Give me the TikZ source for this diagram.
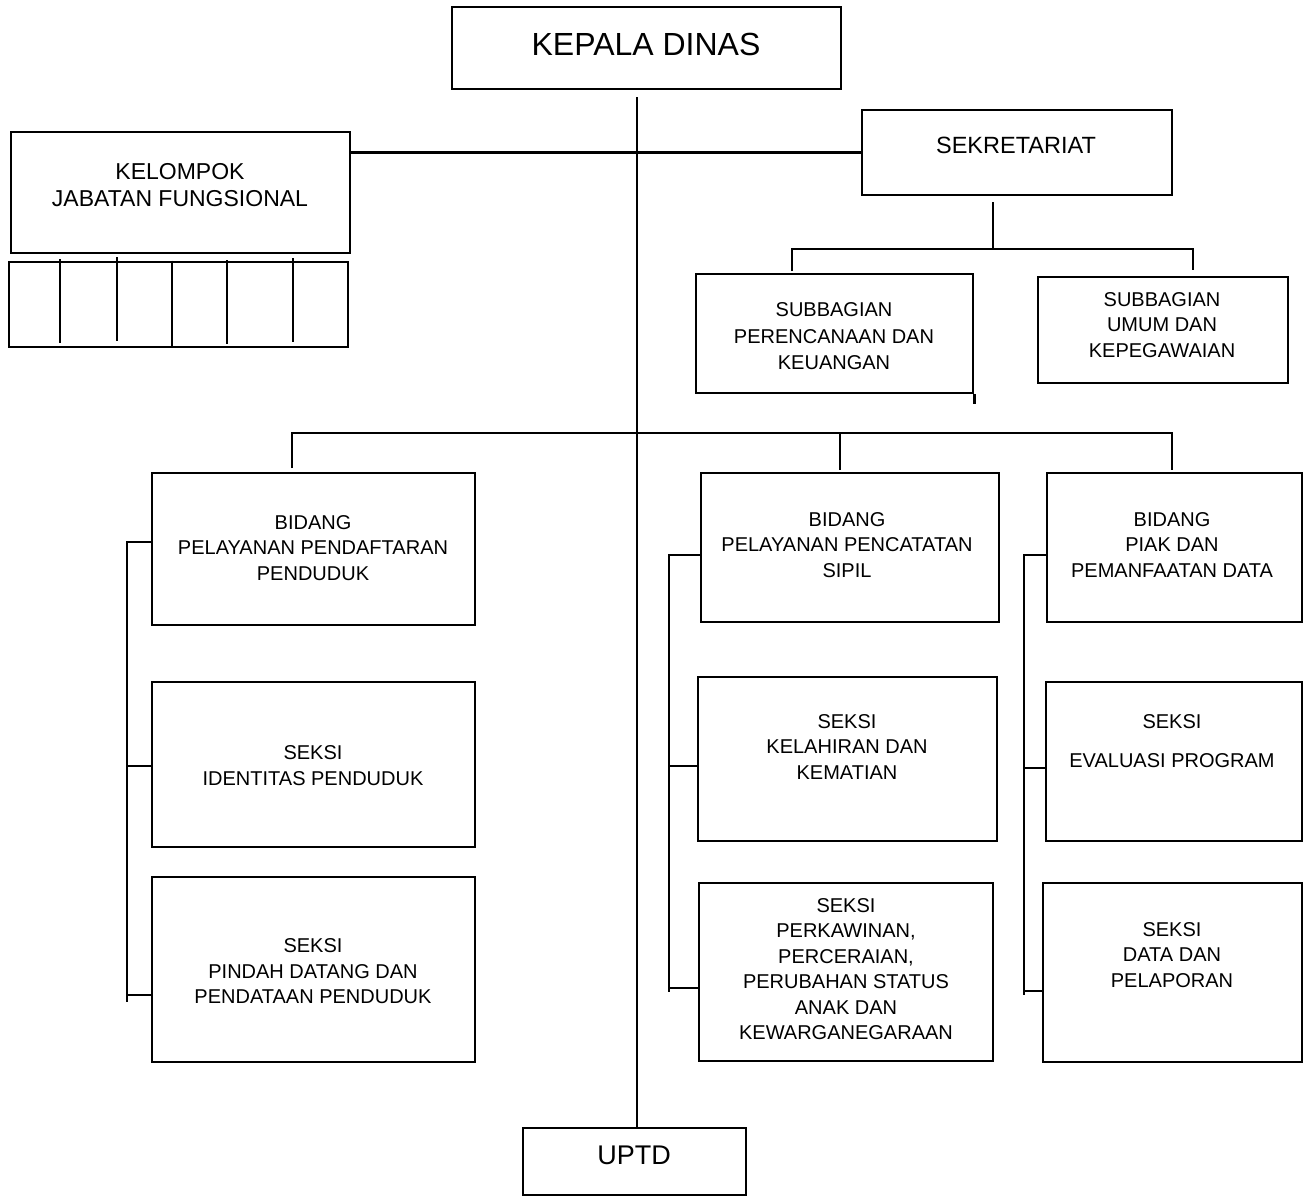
\documentclass[tikz,border=0pt]{standalone}
\usepackage{fontspec}
\setmainfont{Liberation Sans}
\usetikzlibrary{calc}
\tikzset{
    kasten/.style={draw, line width=2.8pt, inner sep=0pt},
    linie/.style={line width=2.6pt},
    schrift/.style={align=center, font=\fontsize{20}{25.5}\selectfont},
}
\begin{document}
\begin{tikzpicture}[x=1pt, y=-1pt]
    % Rahmen des Bildes, damit die Raender so bleiben wie im Original:
    \useasboundingbox (0,0) rectangle (1306,1197);
    % Zuerst die Kaesten (ohne Text), benannt nach ihrer Abkuerzung:
    \node[kasten, minimum width=389, minimum height=82] (kd) at (646.5,48) {};
    \node[kasten, minimum width=310, minimum height=85] (sek) at (1017,152.5) {};
    \node[kasten, minimum width=339, minimum height=121] (jf) at (180.5,192.5) {};
    \node[kasten, minimum width=339, minimum height=85] (raster) at (178.5,304.5) {};
    \node[kasten, minimum width=277, minimum height=119] (spk) at (834.5,333.5) {};
    \node[kasten, minimum width=250, minimum height=106] (sug) at (1163,330) {};
    \node[kasten, minimum width=323, minimum height=152] (bppp) at (313.5,549) {};
    \node[kasten, minimum width=323, minimum height=165] (sid) at (313.5,764.5) {};
    \node[kasten, minimum width=323, minimum height=185] (spd) at (313.5,969.5) {};
    \node[kasten, minimum width=298, minimum height=149] (bpps) at (850,547.5) {};
    \node[kasten, minimum width=299, minimum height=164] (skl) at (847.5,759) {};
    \node[kasten, minimum width=294, minimum height=178] (spr) at (846,972) {};
    \node[kasten, minimum width=255, minimum height=149] (bpiak) at (1174.5,547.5) {};
    \node[kasten, minimum width=256, minimum height=159] (sev) at (1174,761.5) {};
    \node[kasten, minimum width=259, minimum height=179] (sdp) at (1172.5,972.5) {};
    \node[kasten, minimum width=223, minimum height=67] (uptd) at (634.5,1161.5) {};
    % Die Texte sitzen nicht immer in der Mitte der Kaesten, daher eigene Knoten:
    \node[schrift, font=\fontsize{32}{36}\selectfont] (kd-t) at (646,44) {KEPALA DINAS};
    \node[schrift, font=\fontsize{23.5}{27}\selectfont] (sek-t) at (1016,145) {SEKRETARIAT};
    \node[schrift, font=\fontsize{23}{27}\selectfont] (jf-t) at (180,185.5) {KELOMPOK\\JABATAN FUNGSIONAL};
    \node[schrift, font=\fontsize{20}{26.5}\selectfont] (spk-t) at (834,336.5) {SUBBAGIAN\\PERENCANAAN DAN\\KEUANGAN};
    \node[schrift] (sug-t) at (1162,325) {SUBBAGIAN\\UMUM DAN\\KEPEGAWAIAN};
    \node[schrift] (bppp-t) at (313,548) {BIDANG\\PELAYANAN PENDAFTARAN\\PENDUDUK};
    \node[schrift] (sid-t) at (313,765.5) {SEKSI\\IDENTITAS PENDUDUK};
    \node[schrift] (spd-t) at (313,971.5) {SEKSI\\PINDAH DATANG DAN\\PENDATAAN PENDUDUK};
    \node[schrift] (bpps-t) at (847,545) {BIDANG\\PELAYANAN PENCATATAN\\SIPIL};
    \node[schrift] (skl-t) at (847,747) {SEKSI\\KELAHIRAN DAN\\KEMATIAN};
    \node[schrift] (spr-t) at (846,969) {SEKSI\\PERKAWINAN,\\PERCERAIAN,\\PERUBAHAN STATUS\\ANAK DAN\\KEWARGANEGARAAN};
    \node[schrift] (bpiak-t) at (1172,545) {BIDANG\\PIAK DAN\\PEMANFAATAN DATA};
    \node[schrift] (sev-t) at (1172,741) {SEKSI\\[13pt]EVALUASI PROGRAM};
    \node[schrift] (sdp-t) at (1172,955) {SEKSI\\DATA DAN\\PELAPORAN};
    \node[schrift, font=\fontsize{27}{30}\selectfont] (uptd-t) at (634,1155) {UPTD};
    % Der lange Strich von oben nach unten (beginnt etwas unterhalb vom Kasten):
    \coordinate (stamm) at (637,97);
    \draw[linie] (stamm) -- (stamm |- uptd.north);
    % Querverbindung Fungsional -- Sekretariat:
    \draw[linie] (jf.east |- sek.west) -- (sek.west);
    % Sekretariat mit den beiden Subbagian:
    \coordinate (sek-u) at (993,249);
    \draw[linie] (sek-u |- 0,202) -- (sek-u);
    \draw[linie] (792,271) -- (792,249) -- (1193,249) -- (1193,270);
    % der rechte Rand vom Kasten ist im Original etwas zu lang:
    \draw[kasten] (spk.south east) -- ++(0,10);
    % Die Striche im Raster unter dem Fungsional-Kasten (nicht alle gleich lang):
    \foreach \x/\a/\b in {60/259/343, 117/257/341, 227/260/344, 293/258/342}
        \draw[linie] (\x,\a) -- (\x,\b);
    \draw[linie] (172,0 |- raster.north) -- (172,0 |- raster.south);
    % Die Linie zu den drei Bidang:
    \draw[linie] (292,468) -- (292,433) -- (1172,433) -- (1172,470);
    \draw[linie] (840,433) -- (840,470);
    % Linke Klammer:
    \draw[linie] (bppp.west |- 0,542) -- (127,542) -- (127,1002);
    \draw[linie] (127,766) -- (sid.west |- 0,766);
    \draw[linie] (127,995) -- (spd.west |- 0,995);
    % Mittlere Klammer:
    \draw[linie] (bpps.west |- 0,555) -- (669,555) -- (669,992);
    \draw[linie] (669,766) -- (skl.west |- 0,766);
    \draw[linie] (669,988) -- (spr.west |- 0,988);
    % Rechte Klammer:
    \draw[linie] (bpiak.west |- 0,555) -- (1024,555) -- (1024,995);
    \draw[linie] (1024,768) -- (sev.west |- 0,768);
    \draw[linie] (1024,991) -- (sdp.west |- 0,991);
\end{tikzpicture}
\end{document}
